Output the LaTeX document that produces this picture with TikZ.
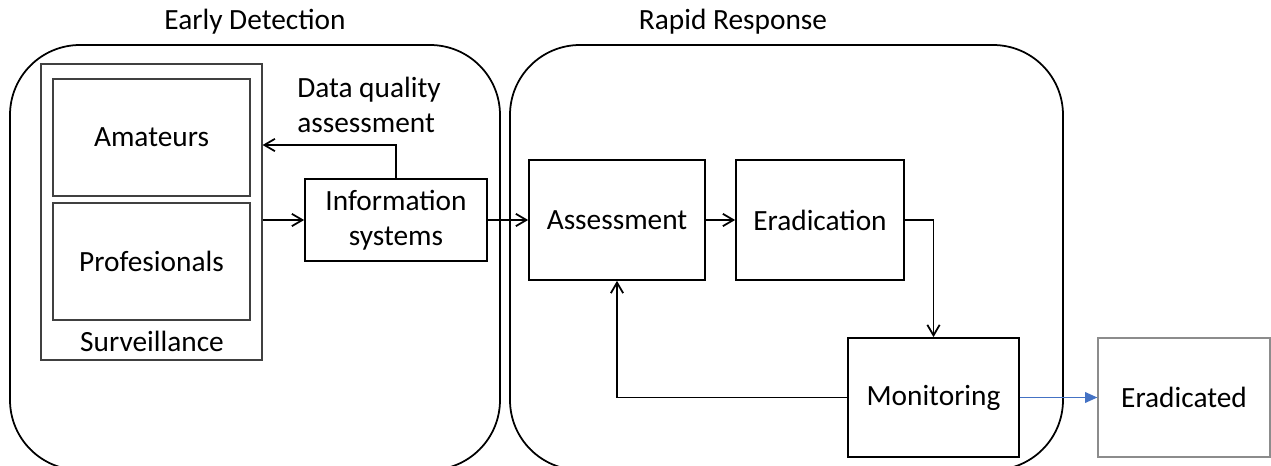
\documentclass[tikz,border=0pt]{standalone}
\usepackage{fontspec}
\setmainfont{Carlito}
\usetikzlibrary{positioning, arrows.meta}
\definecolor{blueline}{HTML}{4472C4}

\begin{document}
\begin{tikzpicture}[x=0.02cm, y=-0.02cm, line width=1pt,
	font=\fontsize{16.7}{20}\selectfont,
	>={Straight Barb[length=6pt,width=7pt]},
	bx/.style={draw, inner sep=0pt, align=center},
	thin box/.style={draw=black!75, line width=0.7pt, inner sep=0pt}]
\useasboundingbox (0,0) rectangle (1271,466);
\clip (0,0) rectangle (1271,466);
% the two phases
\draw[rounded corners=1.4cm] (10,45) rectangle (500,470);
\draw[rounded corners=1.4cm] (510,45) rectangle (1063,470);
\node (ed) at (255,22) {Early Detection};
\node (rr) at (733,22) {Rapid Response};
% surveillance
\node[thin box, minimum width=4.42cm, minimum height=5.92cm] (surv) at (151.5,212) {};
\node[thin box, minimum width=3.94cm, minimum height=2.34cm] (amat) at (151.5,137.5) {Amateurs};
\node[thin box, minimum width=3.94cm, minimum height=2.34cm] (prof) at (151.5,261.5) {Profesionals};
\node (survl) at (152,341) {Surveillance};
\node[align=left] (dqa) at (369,105) {Data quality\\assessment};
\node[bx, minimum width=3.64cm, minimum height=1.64cm] (info) at (396,220) {Information\\systems};
% response
\node[bx, minimum width=3.52cm, minimum height=2.4cm] (assess) at (617,220) {Assessment};
\node[bx, minimum width=3.36cm, minimum height=2.4cm] (erad) at (820,220) {Eradication};
\node[bx, minimum width=3.42cm, minimum height=2.38cm] (mon) at (933.5,397.5) {Monitoring};
\node[bx, draw=black!45, line width=0.7pt, minimum width=3.44cm, minimum height=2.38cm] (done) at (1184,397.5) {Eradicated};
% connectors
\draw[->] (info.north) |- ([yshift=1.34cm]surv.east);
\draw[->] (surv.east |- info.west) -- (info.west);
\draw[->] (info.east) -- (assess.west);
\draw[->] (assess.east) -- (erad.west);
\draw[->] (erad.east) -| (mon.north);
\draw[->] (mon.west) -| (assess.south);
\draw[-{Triangle[length=7pt,width=6pt]}, blueline] (mon.east) -- (done.west);
\end{tikzpicture}
\end{document}
